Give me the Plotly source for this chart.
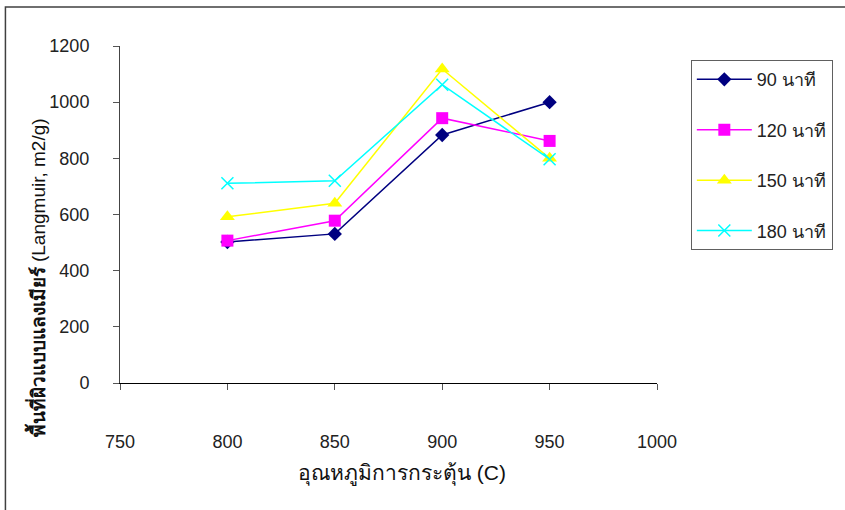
import plotly.graph_objects as go

# Activation temperature (°C)
temperature = [800, 850, 900, 950]

# Langmuir surface area (m2/g) per activation time
area_90 = [502, 531, 883, 1000]
area_120 = [507, 578, 943, 862]
area_150 = [592, 640, 1118, 800]
area_180 = [711, 720, 1062, 797]

series_names = ["90 นาที", "120 นาที", "150 นาที", "180 นาที"]
series_values = [area_90, area_120, area_150, area_180]
series_colors = ["#000080", "#FF00FF", "#FFFF00", "#00FFFF"]
series_symbols = ["diamond", "square", "triangle-up", "x-thin"]
series_sizes = [11, 12, 13, 12]

x_ticks = [750, 800, 850, 900, 950, 1000]
y_ticks = [0, 200, 400, 600, 800, 1000, 1200]

FONT = "Liberation Sans, Arial, Noto Sans, sans-serif"

fig = go.Figure()
for i, (name, vals, col, sym, sz) in enumerate(
    zip(series_names, series_values, series_colors, series_symbols, series_sizes)
):
    marker = dict(symbol=sym, size=sz, color=col)
    if sym == "x-thin":
        marker["line"] = dict(color=col, width=1.5)
    fig.add_trace(
        go.Scatter(
            x=temperature,
            y=vals,
            name=name,
            mode="lines+markers",
            line=dict(color=col, width=1.5),
            marker=marker,
            legendgroup=f"g{i}",
        )
    )

fig.update_layout(
    width=845,
    height=510,
    margin=dict(l=120, r=186, t=46, b=127),
    paper_bgcolor="white",
    plot_bgcolor="white",
    font=dict(family=FONT, size=18, color="#222222"),
    showlegend=True,
    legend=dict(
        x=1.063,
        y=0.958,
        xanchor="left",
        yanchor="top",
        bgcolor="white",
        bordercolor="#606060",
        borderwidth=1,
        itemwidth=55,
        tracegroupgap=24,
        font=dict(family=FONT, size=18, color="#222222"),
    ),
    xaxis=dict(
        range=[750, 1000],
        tickvals=x_ticks,
        ticks="outside",
        ticklen=6,
        tickcolor="#555555",
        showline=True,
        linecolor="#000000",
        linewidth=1.2,
        showgrid=False,
        zeroline=False,
        ticklabelstandoff=36,
    ),
    yaxis=dict(
        range=[0, 1200],
        tickvals=y_ticks,
        ticks="outside",
        ticklen=6,
        tickcolor="#555555",
        showline=True,
        linecolor="#444444",
        linewidth=1,
        showgrid=False,
        zeroline=False,
        ticklabelstandoff=20,
    ),
    annotations=[
        dict(
            text="อุณหภูมิการกระตุ้น (C)",
            xref="paper", yref="paper",
            x=(403 - 120) / 539, y=(383 - 473) / 337,
            xanchor="center", yanchor="middle",
            showarrow=False,
            font=dict(family=FONT, size=21, color="#111111"),
        ),
        dict(
            text="<b>พื้นที่ผิวแบบแลงเมียร์</b> (Langmuir, m2/g)",
            xref="paper", yref="paper",
            x=(36 - 120) / 539, y=(383 - 278) / 337,
            xanchor="center", yanchor="middle",
            textangle=-90,
            showarrow=False,
            font=dict(family=FONT, size=19, color="#111111"),
        ),
    ],
    shapes=[
        dict(
            type="rect",
            xref="paper", yref="paper",
            x0=(5 - 120) / 539, x1=1.5,
            y0=-0.6, y1=(383 - 7) / 337,
            line=dict(color="#404040", width=1.5),
            fillcolor="rgba(0,0,0,0)",
            layer="below",
        )
    ],
)

fig.write_html("out.html")
